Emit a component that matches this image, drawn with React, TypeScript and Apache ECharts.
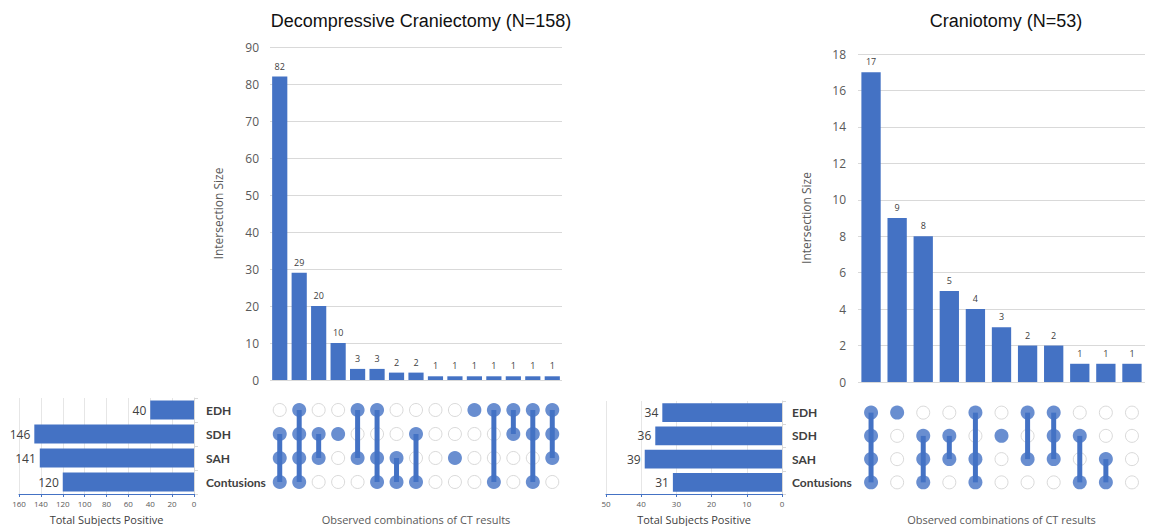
import React, { useEffect, useRef } from "react";
import * as echarts from "echarts";

// ---- Data ----
const setNames = ["EDH", "SDH", "SAH", "Contusions"];

// Decompressive Craniectomy (N=158)
const dcSizes = [82, 29, 20, 10, 3, 3, 2, 2, 1, 1, 1, 1, 1, 1, 1];
const dcEDH = [0, 1, 0, 0, 1, 1, 0, 0, 0, 0, 1, 1, 1, 1, 1];
const dcSDH = [1, 1, 1, 1, 0, 0, 0, 1, 0, 0, 0, 0, 1, 1, 1];
const dcSAH = [1, 1, 1, 0, 1, 1, 1, 0, 0, 1, 0, 0, 0, 0, 1];
const dcCont = [1, 1, 0, 0, 0, 1, 1, 1, 0, 0, 0, 1, 0, 1, 0];
const dcTotals = [40, 146, 141, 120];

// Craniotomy (N=53)
const crSizes = [17, 9, 8, 5, 4, 3, 2, 2, 1, 1, 1];
const crEDH = [1, 1, 0, 0, 1, 0, 1, 1, 0, 0, 0];
const crSDH = [1, 0, 1, 1, 0, 1, 0, 1, 1, 0, 0];
const crSAH = [1, 0, 1, 1, 1, 0, 1, 1, 0, 1, 0];
const crCont = [1, 0, 1, 0, 1, 0, 0, 0, 1, 1, 0];
const crTotals = [34, 36, 39, 31];

const BLUE = "#4472C4";
const GRID = "#D9D9D9";
const TXT = "#595959";
const FONT = "'Open Sans', 'Noto Sans', sans-serif";

type Panel = {
  sizes: number[];
  members: number[][];
  totals: number[];
  yMax: number;
  yInterval: number;
  hMax: number;
  hInterval: number;
  barGap: string;
  label: number;
  labelMargin: number;
};

function comboNames(members: number[][], n: number) {
  const out: string[] = [];
  for (let i = 0; i < n; i++) {
    const parts = setNames.filter((_, j) => members[j][i] === 1);
    out.push(parts.length ? parts.join("+") : "None");
  }
  return out;
}

function buildPanel(p: Panel, g: number, series: any[], xAxes: any[], yAxes: any[]) {
  const n = p.sizes.length;
  const cats = comboNames(p.members, n);
  const gBar = g, gMat = g + 1, gH = g + 2;

  // bar chart
  xAxes.push({
    type: "category", gridIndex: gBar, data: cats,
    axisLine: { show: false }, axisTick: { show: false }, axisLabel: { show: false },
  });
  yAxes.push({
    type: "value", gridIndex: gBar, min: 0, max: p.yMax, interval: p.yInterval,
    name: "Intersection Size", nameLocation: "middle", nameGap: 46,
    nameTextStyle: { color: TXT, fontSize: 12, fontFamily: FONT },
    axisLine: { show: false }, axisTick: { show: false },
    axisLabel: { color: TXT, fontSize: 12, fontFamily: FONT, margin: p.labelMargin },
    splitLine: { lineStyle: { color: GRID, width: 1 } },
  });
  series.push({
    type: "bar", xAxisIndex: xAxes.length - 1, yAxisIndex: yAxes.length - 1,
    data: p.sizes, barCategoryGap: p.barGap,
    itemStyle: { color: BLUE },
    label: { show: true, position: "top", fontSize: 9, color: "#404040", fontFamily: FONT, distance: 6 },
  });

  // matrix
  xAxes.push({
    type: "category", gridIndex: gMat, data: cats,
    name: "Observed combinations of CT results", nameLocation: "middle", nameGap: 20,
    nameTextStyle: { color: TXT, fontSize: 11, fontFamily: FONT },
    axisLine: { show: false }, axisTick: { show: false }, axisLabel: { show: false },
  });
  yAxes.push({
    type: "category", gridIndex: gMat, data: setNames, inverse: true,
    axisLine: { show: false }, axisTick: { show: false },
    axisLabel: { align: "left", margin: p.label, fontWeight: "bold", color: "#404040", fontSize: 12, fontFamily: "Lato, 'Open Sans', sans-serif" },
  });
  const xi = xAxes.length - 1, yi = yAxes.length - 1;
  const hollow: number[][] = [];
  const filled: number[][] = [];
  const segs: number[][] = [];
  for (let i = 0; i < n; i++) {
    let lo = -1, hi = -1;
    for (let j = 0; j < setNames.length; j++) {
      if (p.members[j][i]) {
        filled.push([i, j]);
        if (lo < 0) lo = j;
        hi = j;
      } else hollow.push([i, j]);
    }
    if (hi > lo && lo >= 0) segs.push([i, lo, hi]);
  }
  series.push({
    type: "scatter", xAxisIndex: xi, yAxisIndex: yi, data: hollow, symbolSize: 13, z: 2,
    itemStyle: { color: "#ffffff", borderColor: "#CFCFCF", borderWidth: 1 },
  });
  series.push({
    type: "custom", xAxisIndex: xi, yAxisIndex: yi, data: segs, z: 3,
    renderItem: (params: any, api: any) => {
      const a = api.coord([api.value(0), api.value(1)]);
      const b = api.coord([api.value(0), api.value(2)]);
      return {
        type: "line",
        shape: { x1: a[0], y1: a[1], x2: b[0], y2: b[1] },
        style: { stroke: BLUE, lineWidth: 5 },
      };
    },
  });
  series.push({
    type: "scatter", xAxisIndex: xi, yAxisIndex: yi, data: filled, symbolSize: 14, z: 4,
    itemStyle: { color: BLUE },
  });

  // horizontal totals
  xAxes.push({
    type: "value", gridIndex: gH, inverse: true, min: 0, max: p.hMax, interval: p.hInterval,
    name: "Total Subjects Positive", nameLocation: "middle", nameGap: 20,
    nameTextStyle: { color: "#404040", fontSize: 11, fontFamily: FONT },
    axisLine: { show: true, lineStyle: { color: BLUE, width: 1 } },
    axisTick: { show: true, length: 3, lineStyle: { color: BLUE } },
    axisLabel: { color: TXT, fontSize: 8, fontFamily: FONT, margin: 5 },
    splitLine: { show: true, lineStyle: { color: "#E6E6E6" } },
  });
  yAxes.push({
    type: "category", gridIndex: gH, data: setNames, inverse: true, position: "right",
    axisLine: { show: true, lineStyle: { color: GRID } },
    axisTick: { show: true, length: 4, lineStyle: { color: GRID } },
    axisLabel: { show: false },
  });
  series.push({
    type: "bar", xAxisIndex: xAxes.length - 1, yAxisIndex: yAxes.length - 1,
    data: p.totals, barCategoryGap: "20%",
    itemStyle: { color: BLUE },
    label: { show: true, position: "left", fontSize: 12, color: "#404040", fontFamily: FONT, distance: 4 },
  });
}

export default function App() {
  const ref = useRef<HTMLDivElement>(null);
  useEffect(() => {
    if (!ref.current) return;
    const chart = echarts.init(ref.current, null, { renderer: "svg" });
    const series: any[] = [];
    const xAxes: any[] = [];
    const yAxes: any[] = [];
    buildPanel(
      { sizes: dcSizes, members: [dcEDH, dcSDH, dcSAH, dcCont], totals: dcTotals,
        yMax: 90, yInterval: 10, hMax: 160, hInterval: 20, barGap: "22%", label: 64, labelMargin: 11 },
      0, series, xAxes, yAxes
    );
    buildPanel(
      { sizes: crSizes, members: [crEDH, crSDH, crSAH, crCont], totals: crTotals,
        yMax: 18, yInterval: 2, hMax: 50, hInterval: 10, barGap: "26%", label: 66, labelMargin: 12 },
      3, series, xAxes, yAxes
    );
    chart.setOption({
      animation: false,
      backgroundColor: "#ffffff",
      title: [
        { text: "Decompressive Craniectomy (N=158)", left: 416, top: 7, textAlign: "center",
          textStyle: { fontSize: 18, fontWeight: "normal", color: "#111", fontFamily: "'Liberation Sans', Arial, sans-serif" } },
        { text: "Craniotomy (N=53)", left: 1001, top: 7, textAlign: "center",
          textStyle: { fontSize: 18, fontWeight: "normal", color: "#111", fontFamily: "'Liberation Sans', Arial, sans-serif" } },
      ],
      grid: [
        { left: 270, top: 47, width: 292, height: 333 },
        { left: 270, top: 398, width: 292, height: 97 },
        { left: 19, top: 398, width: 175, height: 98 },
        { left: 858, top: 54, width: 287, height: 328 },
        { left: 858, top: 401, width: 287, height: 96 },
        { left: 606, top: 401, width: 176, height: 96 },
      ],
      xAxis: xAxes,
      yAxis: yAxes,
      series,
    });
    return () => chart.dispose();
  }, []);
  return (
    <div
      ref={ref}
      style={{ position: "fixed", left: 0, top: 0, width: 1154, height: 526, background: "#fff" }}
    />
  );
}
